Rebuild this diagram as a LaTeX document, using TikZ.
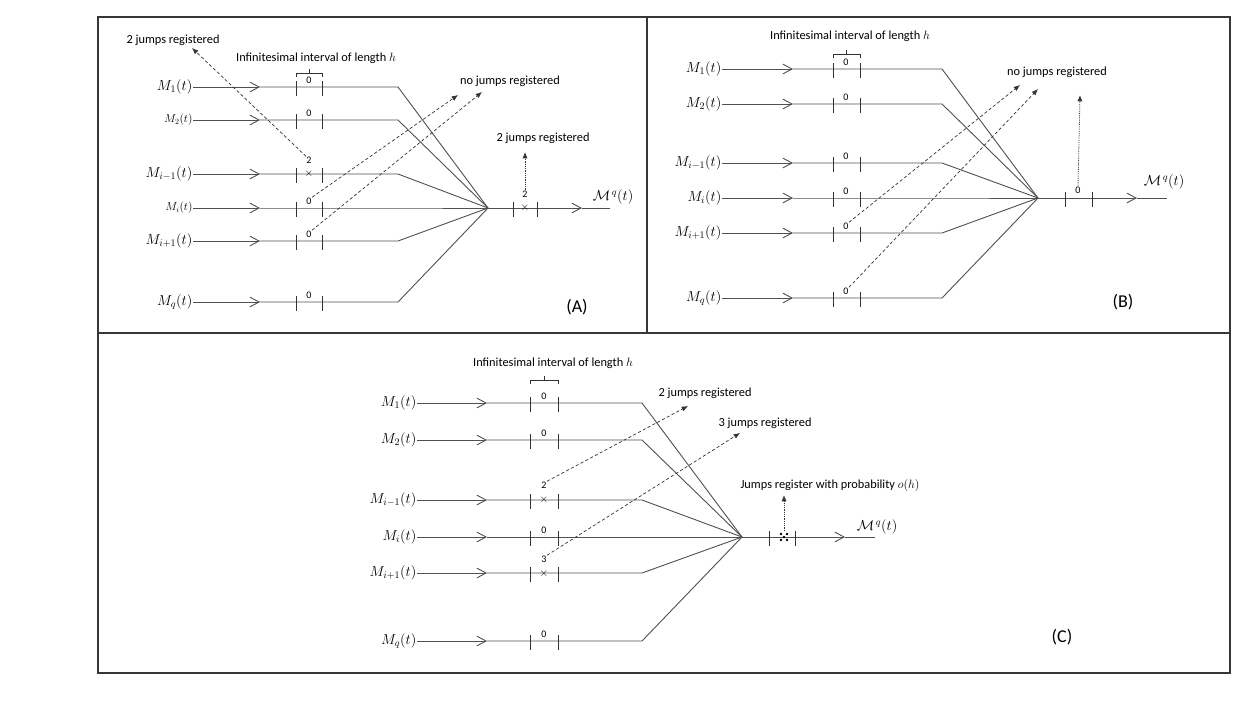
\documentclass[tikz,border=0pt]{standalone}
\usepackage{amsmath}
\usepackage[no-math]{fontspec}
\setmainfont{Carlito}
\usetikzlibrary{arrows.meta,calc,positioning}

\begin{document}
\begin{tikzpicture}[
    x=0.35mm, y=-0.35mm,
    font=\fontsize{12}{14}\selectfont,
    >={Straight Barb[length=3.2mm, width=3.4mm]},
]

\definecolor{wireColor}{RGB}{80, 80, 80}
\definecolor{frameColor}{RGB}{55, 55, 55}

\tikzset{
    sig/.style = {anchor=east, inner sep=0.5pt, font=\fontsize{14}{16}\selectfont},
    wire/.style = {draw=wireColor, line width=0.9pt},
    flow/.style = {wire, ->},
    tickmark/.style = {draw=black!80, line width=1pt},
    count/.style = {font=\fontsize{10}{11}\selectfont, inner sep=0.3pt},
    jumpx/.style = {font=\fontsize{10.5}{11}\selectfont, inner sep=0pt},
    note/.style = {font=\fontsize{12.3}{14}\selectfont, inner sep=1pt},
    jump_arrow/.style = {draw=black!80, line width=0.7pt, dash pattern=on 1.1mm off 0.8mm,
                         -{Latex[length=2.2mm, width=1.8mm]}},
    up_arrow/.style = {draw=black!80, line width=0.8pt, densely dotted,
                       -{Latex[length=2.2mm, width=1.8mm]}},
    out_label/.style = {font=\fontsize{14}{16}\selectfont, inner sep=0pt},
    panel_label/.style = {font=\fontsize{18}{20}\selectfont},
}

\useasboundingbox (0,0) rectangle (1256,707);

% Frames
\draw[frameColor, line width=1.1pt] (98,17) rectangle (1230,673);
\draw[frameColor, line width=1.1pt] (98,333) -- (1230,333);
\draw[frameColor, line width=1.1pt] (647,17) -- (647,333);

% =========== PANEL (A) ===========
\coordinate (a_join) at (488,208);
\foreach \y/\lab/\s/\c/\dy/\n in {87/M_1(t)/1/0/7/1, 120/M_2(t)/0.8/0/7/2,
        174/M_{i-1}(t)/1/2/14/3, 208/M_i(t)/0.8/0/7/4,
        241/M_{i+1}(t)/1/0/7/5, 302/M_q(t)/1/0/7/6}{
    \node[sig, scale=\s] (a_in\n) at (193,\y) {$\lab$};
    \coordinate (a_arr\n) at (260,\y);
    \coordinate (a_bend\n) at (398,\y);
    \draw[flow] (a_in\n.east) -- (a_arr\n);
    \draw[wire] (a_arr\n) -- (a_bend\n) -- (a_join);
    \draw[tickmark] (296,\y-6) -- (296,\y+9);
    \draw[tickmark] (322,\y-6) -- (322,\y+9);
    \node[count] (a_cnt\n) at (309,\y-\dy) {\c};
}
\node[jumpx] (a_x3) at (309,174) {$\times$};

% interval bracket
\draw[tickmark, line width=0.8pt] (296,77) -- (296,73) -- (322,73) -- (322,77);
\draw[tickmark, line width=0.8pt] (309,73) -- (309,69);
\node[note] (a_note_inf) at (316,58) {Infinitesimal interval of length $h$};

% output line
\coordinate (a_oarr) at (582,208);
\coordinate (a_oend) at (610,208);
\draw[flow] (a_join) -- (a_oarr);
\draw[wire] (a_oarr) -- (a_oend);
\draw[tickmark] (513,202) -- (513,217);
\draw[tickmark] (537,202) -- (537,217);
\node[count] (a_ocnt) at (525,194) {2};
\node[jumpx] (a_ox) at (525,208) {$\times$};
\node[out_label] (a_out) at (613,197) {$\mathcal{M}^{\,q}(t)$};

% jump annotations
\node[note] (a_note_two) at (173,40) {2 jumps registered};
\coordinate (a_tip_two) at (192,48);
\draw[jump_arrow] (a_cnt3.north west) -- (a_tip_two);

\node[note] (a_note_none) at (510,81) {no jumps registered};
\coordinate (a_tip_n1) at (458,95);
\coordinate (a_tip_n2) at (482,92);
\draw[jump_arrow] (a_cnt4.north east) -- (a_tip_n1);
\draw[jump_arrow] (a_cnt5.north east) -- (a_tip_n2);

\node[note] (a_note_out) at (543,138) {2 jumps registered};
\coordinate (a_tip_out) at (525,152);
\draw[up_arrow] (a_ocnt.north) -- (a_tip_out);

\node[panel_label] (a_tag) at (577,307) {(A)};

% =========== PANEL (B) ===========
\coordinate (b_join) at (1038,198);
\foreach \y/\lab/\n in {69/M_1(t)/1, 104/M_2(t)/2, 163/M_{i-1}(t)/3,
        198/M_i(t)/4, 233/M_{i+1}(t)/5, 298/M_q(t)/6}{
    \node[sig] (b_in\n) at (722,\y) {$\lab$};
    \coordinate (b_arr\n) at (793,\y);
    \coordinate (b_bend\n) at (942,\y);
    \draw[flow] (b_in\n.east) -- (b_arr\n);
    \draw[wire] (b_arr\n) -- (b_bend\n) -- (b_join);
    \draw[tickmark] (833,\y-6) -- (833,\y+9);
    \draw[tickmark] (860,\y-6) -- (860,\y+9);
    \node[count] (b_cnt\n) at (846,\y-7) {0};
}

% interval bracket
\draw[tickmark, line width=0.8pt] (833,58) -- (833,54) -- (860,54) -- (860,58);
\draw[tickmark, line width=0.8pt] (846,54) -- (846,50);
\node[note] (b_note_inf) at (850,36) {Infinitesimal interval of length $h$};

% output line
\coordinate (b_oarr) at (1137,198);
\coordinate (b_oend) at (1167,198);
\draw[flow] (b_join) -- (b_oarr);
\draw[wire] (b_oarr) -- (b_oend);
\draw[tickmark] (1065,192) -- (1065,207);
\draw[tickmark] (1092,192) -- (1092,207);
\node[count] (b_ocnt) at (1078,190) {0};
\node[out_label] (b_out) at (1164,182) {$\mathcal{M}^{\,q}(t)$};

% jump annotations
\node[note] (b_note_none) at (1057,72) {no jumps registered};
\coordinate (b_tip_n1) at (1020,85);
\coordinate (b_tip_n2) at (1038,89);
\coordinate (b_tip_out) at (1080,95);
\draw[jump_arrow] (b_cnt5.north east) -- (b_tip_n1);
\draw[jump_arrow] (b_cnt6.north east) -- (b_tip_n2);
\draw[up_arrow] (b_ocnt.north) -- (b_tip_out);

\node[panel_label] (b_tag) at (1123,302) {(B)};

% =========== PANEL (C) ===========
\coordinate (c_join) at (742,537);
\foreach \y/\lab/\c/\dy/\n in {403/M_1(t)/0/7/1, 440/M_2(t)/0/7/2,
        500/M_{i-1}(t)/2/15/3, 537/M_i(t)/0/7/4,
        573/M_{i+1}(t)/3/14/5, 641/M_q(t)/0/7/6}{
    \node[sig] (c_in\n) at (417,\y) {$\lab$};
    \coordinate (c_arr\n) at (487,\y);
    \coordinate (c_bend\n) at (642,\y);
    \draw[flow] (c_in\n.east) -- (c_arr\n);
    \draw[wire] (c_arr\n) -- (c_bend\n) -- (c_join);
    \draw[tickmark] (530,\y-6) -- (530,\y+9);
    \draw[tickmark] (558,\y-6) -- (558,\y+9);
    \node[count] (c_cnt\n) at (544,\y-\dy) {\c};
}
\node[jumpx] (c_x3) at (544,500) {$\times$};
\node[jumpx] (c_x5) at (544,574) {$\times$};

% interval bracket
\draw[tickmark, line width=0.8pt] (530,384) -- (530,380) -- (558,380) -- (558,384);
\draw[tickmark, line width=0.8pt] (544,380) -- (544,376);
\node[note] (c_note_inf) at (553,363) {Infinitesimal interval of length $h$};

% output line
\coordinate (c_oarr) at (845,537);
\coordinate (c_oend) at (875,537);
\draw[flow] (c_join) -- (c_oarr);
\draw[wire] (c_oarr) -- (c_oend);
\draw[tickmark] (769,531) -- (769,546);
\draw[tickmark] (795,531) -- (795,546);
\foreach \dx/\dz in {-3/-3, 3/-3, 0/0, -3/3, 3/3}
    \fill (784+\dx,537+\dz) circle (0.45mm);
\coordinate (c_dots) at (784,531);
\node[out_label] (c_out) at (877,527) {$\mathcal{M}^{\,q}(t)$};

% jump annotations
\node[note] (c_note_two) at (705,393) {2 jumps registered};
\node[note] (c_note_three) at (765,423) {3 jumps registered};
\node[note] (c_note_prob) at (830,485) {Jumps register with probability $o(h)$};
\coordinate (c_tip_two) at (688,406);
\coordinate (c_tip_three) at (740,433);
\coordinate (c_tip_out) at (784,495);
\draw[jump_arrow] (c_cnt3.north east) -- (c_tip_two);
\draw[jump_arrow] (c_cnt5.north east) -- (c_tip_three);
\draw[up_arrow] (c_dots) -- (c_tip_out);

\node[panel_label] (c_tag) at (1062,637) {(C)};

\end{tikzpicture}
\end{document}
